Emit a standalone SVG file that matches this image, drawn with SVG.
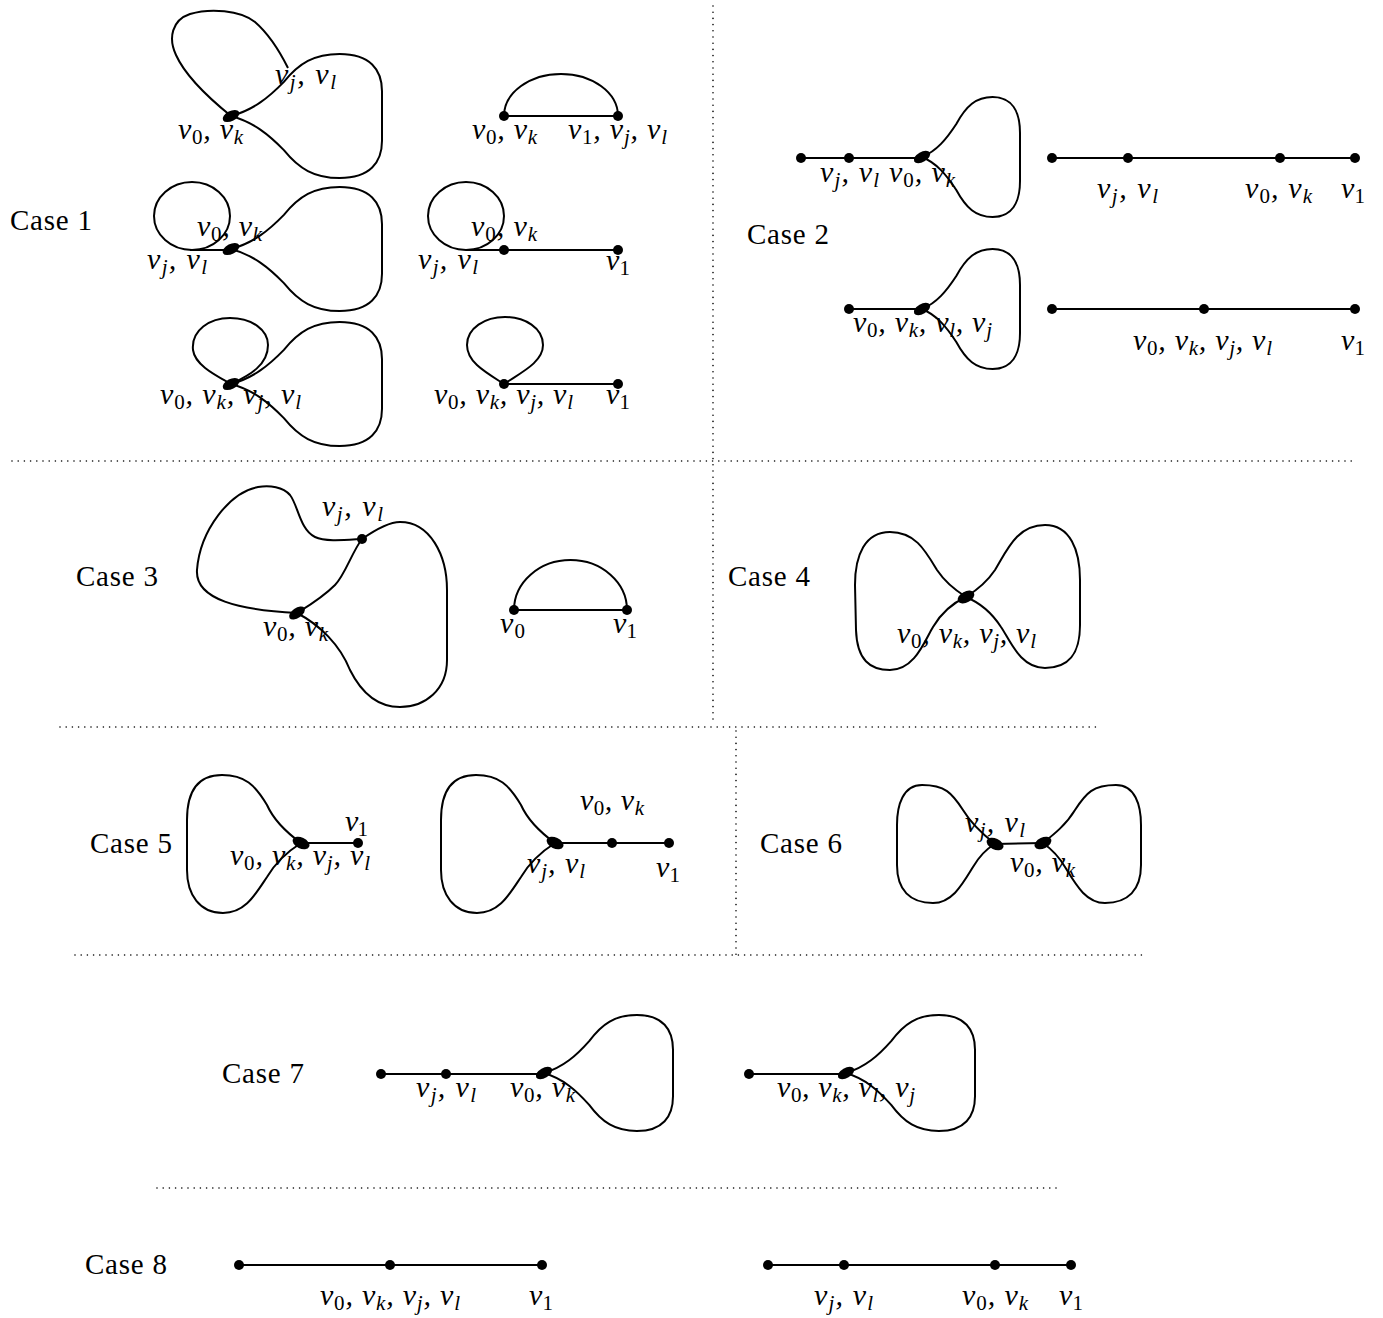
<svg xmlns="http://www.w3.org/2000/svg" width="1383" height="1318" viewBox="0 0 1383 1318">
<style>
.e{fill:none;stroke:#000;stroke-width:2}
.d{stroke:#000;stroke-width:1.6;stroke-dasharray:0 6.2;stroke-linecap:round;fill:none}
.v{fill:#000}
.m{font-family:"Liberation Serif","Times New Roman",serif;font-style:italic;font-size:30px;fill:#000}
.s{font-size:21px;font-style:normal}
.t{font-size:21px}
.c{font-family:"Liberation Serif","Times New Roman",serif;font-size:29px;fill:#000}
</style>
<rect width="1383" height="1318" fill="#fff"/>
<g id="dividers">
<line class="d" x1="713" y1="6" x2="713" y2="722"/>
<line class="d" x1="12" y1="461" x2="1356" y2="461"/>
<line class="d" x1="60" y1="727" x2="1100" y2="727"/>
<line class="d" x1="736" y1="731" x2="736" y2="955"/>
<line class="d" x1="75" y1="955" x2="1146" y2="955"/>
<line class="d" x1="157" y1="1188" x2="1058" y2="1188"/>
</g>
<g id="case-labels">
<text class="c" x="10" y="230" textLength="82" lengthAdjust="spacing">Case 1</text>
<text class="c" x="747" y="244" textLength="82" lengthAdjust="spacing">Case 2</text>
<text class="c" x="76" y="586" textLength="82" lengthAdjust="spacing">Case 3</text>
<text class="c" x="728" y="586" textLength="82" lengthAdjust="spacing">Case 4</text>
<text class="c" x="90" y="853" textLength="82" lengthAdjust="spacing">Case 5</text>
<text class="c" x="760" y="853" textLength="82" lengthAdjust="spacing">Case 6</text>
<text class="c" x="222" y="1083" textLength="82" lengthAdjust="spacing">Case 7</text>
<text class="c" x="85" y="1274" textLength="82" lengthAdjust="spacing">Case 8</text>
</g>
<g id="connectors">
<!-- Case 1 -->
<path class="e" d="M231,116 C205,95 185,75 176,55 C168,38 172,20 190,14 C210,8 240,10 255,22 C270,35 280,52 288,68"/>
<path class="e" d="M231,116 C253.7,109.8 268.8,97.4 283.9,81.9 C299,63.3 314.1,54 339.7,54 C369.9,54 382,69.5 382,91.2 L382,140.8 C382,162.5 369.9,178 339.7,178 C314.1,178 299,168.7 283.9,150.1 C268.8,134.6 253.7,122.2 231,116"/>
<path class="e" d="M504,116 A57,42 0 0 1 618,116 M504,116 H618"/>
<ellipse class="e" cx="192" cy="216" rx="38" ry="34"/>
<path class="e" d="M190,250 H231"/>
<path class="e" d="M231,249 C253.7,242.8 268.8,230.4 283.9,214.9 C299,196.3 314.1,187 339.7,187 C369.9,187 382,202.5 382,224.2 L382,273.8 C382,295.5 369.9,311 339.7,311 C314.1,311 299,301.7 283.9,283.1 C268.8,267.6 253.7,255.2 231,249"/>
<ellipse class="e" cx="466" cy="216" rx="38" ry="34"/>
<path class="e" d="M466,250 H618"/>
<path class="e" d="M231,384 C215,375 195,365 193,350 C191,330 210,318 230,318 C252,318 268,330 268,345 C268,365 250,375 231,384"/>
<path class="e" d="M231,384 C253.7,377.8 268.8,365.4 283.9,349.9 C299,331.3 314.1,322 339.7,322 C369.9,322 382,337.5 382,359.2 L382,408.8 C382,430.5 369.9,446 339.7,446 C314.1,446 299,436.7 283.9,418.1 C268.8,402.6 253.7,390.2 231,384"/>
<path class="e" d="M504,384 C485,372 467,362 467,345 C467,328 485,317 505,317 C525,317 543,328 543,345 C543,362 522,372 504,384 M504,384 H618"/>
<!-- Case 2 -->
<path class="e" d="M801,158 H922"/>
<path class="e" d="M922,157 C936.7,151 946.5,139 956.3,124 C966.1,106 975.9,97 992.6,97 C1012.2,97 1020,112 1020,133 L1020,181 C1020,202 1012.2,217 992.6,217 C975.9,217 966.1,208 956.3,190 C946.5,175 936.7,163 922,157"/>
<path class="e" d="M1052,158 H1355"/>
<path class="e" d="M849,309 H922"/>
<path class="e" d="M922,309 C936.7,303 946.5,291 956.3,276 C966.1,258 975.9,249 992.6,249 C1012.2,249 1020,264 1020,285 L1020,333 C1020,354 1012.2,369 992.6,369 C975.9,369 966.1,360 956.3,342 C946.5,327 936.7,315 922,309"/>
<path class="e" d="M1052,309 H1355"/>
<!-- Case 3 -->
<path class="e" d="M362,539 C345,540 325,542 315,537 C300,530 298,505 290,495 C283,487 270,485 258,487 C230,492 200,530 197,570 C195,600 240,610 297,613"/>
<path class="e" d="M362,539 C352,552 345,575 335,585 C322,598 310,605 297,613"/>
<path class="e" d="M362,539 C375,530 390,522 400,522 C430,522 447,555 447,590 L447,660 C447,690 425,707 400,707 C375,707 360,690 350,670 C340,645 320,625 297,613"/>
<path class="e" d="M514,610 A56.5,50 0 0 1 627,610 M514,610 H627"/>
<!-- Case 4 -->
<path class="e" d="M966,597 C955,590 945,582 937,570 C925,550 915,532 890,532 C865,532 855,555 855,585 L856,630 C857,660 870,670 890,670 C915,670 925,640 933,627 C943,610 955,602 966,597"/>
<path class="e" d="M966,597 C977,590 987,582 995,570 C1007,550 1017,525 1045,525 C1070,525 1080,550 1080,580 L1080,625 C1080,655 1068,668 1045,668 C1020,668 1010,640 1001,627 C990,610 978,602 966,597"/>
<!-- Case 5 -->
<path class="e" d="M301,843 H358"/>
<path class="e" d="M301,843 C290,835 275,823 267,805 C255,785 245,775 222,775 C195,775 187,795 187,820 L187,870 C187,895 200,913 223,913 C245,913 255,895 267,877 C277,860 290,850 301,843"/>
<path class="e" d="M555,843 H669"/>
<path class="e" d="M555,843 C544,835 529,823 521,805 C509,785 499,775 476,775 C449,775 441,795 441,820 L441,870 C441,895 454,913 477,913 C499,913 509,895 521,877 C531,860 544,850 555,843"/>
<!-- Case 6 -->
<path class="e" d="M995,844 L1043,843"/>
<path class="e" d="M995,844 C985,836 972,825 963,810 C952,793 945,785 922,785 C903,785 897,805 897,825 L897,865 C897,890 910,903 933,903 C952,903 962,885 973,867 C980,855 988,848 995,844"/>
<path class="e" d="M1043,843 C1053,835 1066,825 1075,810 C1086,793 1093,785 1116,785 C1135,785 1141,805 1141,825 L1141,865 C1141,890 1128,903 1105,903 C1086,903 1076,885 1065,867 C1058,855 1050,848 1043,843"/>
<!-- Case 7 -->
<path class="e" d="M381,1074 H544"/>
<path class="e" d="M544,1073 C563.4,1067.2 576.3,1055.6 589.2,1041.1 C602.1,1023.7 615,1015 636.9,1015 C662.7,1015 673,1029.5 673,1049.8 L673,1096.2 C673,1116.5 662.7,1131 636.9,1131 C615,1131 602.1,1122.3 589.2,1104.9 C576.3,1090.4 563.4,1078.8 544,1073"/>
<path class="e" d="M749,1074 H846"/>
<path class="e" d="M846,1073 C865.4,1067.2 878.3,1055.6 891.2,1041.1 C904.1,1023.7 917,1015 938.9,1015 C964.7,1015 975,1029.5 975,1049.8 L975,1096.2 C975,1116.5 964.7,1131 938.9,1131 C917,1131 904.1,1122.3 891.2,1104.9 C878.3,1090.4 865.4,1078.8 846,1073"/>
<!-- Case 8 -->
<path class="e" d="M239,1265 H542 M768,1265 H1071"/>
</g>
<!-- Case 1 nodes -->
<g id="c1a-n0"><ellipse class="v" cx="231" cy="116" rx="9" ry="5" transform="rotate(-28 231 116)"/>
<text class="m" x="178" y="139" textLength="65">v<tspan class="s" dy="5">0</tspan><tspan dy="-5">, v</tspan><tspan class="t" dy="5">k</tspan></text>
<text class="m" x="275" y="84" textLength="61">v<tspan class="t" dy="5">j</tspan><tspan dy="-5">, v</tspan><tspan class="t" dy="5">l</tspan></text></g>
<g id="c1b-n0"><circle class="v" cx="504" cy="116" r="5"/>
<text class="m" x="472" y="139" textLength="65">v<tspan class="s" dy="5">0</tspan><tspan dy="-5">, v</tspan><tspan class="t" dy="5">k</tspan></text></g>
<g id="c1b-n1"><circle class="v" cx="618" cy="116" r="5"/>
<text class="m" x="568" y="139" textLength="99">v<tspan class="s" dy="5">1</tspan><tspan dy="-5">, v</tspan><tspan class="t" dy="5">j</tspan><tspan dy="-5">, v</tspan><tspan class="t" dy="5">l</tspan></text></g>
<g id="c1c-n0"><ellipse class="v" cx="231" cy="249" rx="9" ry="5" transform="rotate(-28 231 249)"/>
<text class="m" x="197" y="236" textLength="65">v<tspan class="s" dy="5">0</tspan><tspan dy="-5">, v</tspan><tspan class="t" dy="5">k</tspan></text>
<text class="m" x="147" y="269" textLength="60">v<tspan class="t" dy="5">j</tspan><tspan dy="-5">, v</tspan><tspan class="t" dy="5">l</tspan></text></g>
<g id="c1d-n0"><circle class="v" cx="504" cy="250" r="5"/>
<text class="m" x="471" y="236" textLength="66">v<tspan class="s" dy="5">0</tspan><tspan dy="-5">, v</tspan><tspan class="t" dy="5">k</tspan></text>
<text class="m" x="418" y="269" textLength="60">v<tspan class="t" dy="5">j</tspan><tspan dy="-5">, v</tspan><tspan class="t" dy="5">l</tspan></text></g>
<g id="c1d-n1"><circle class="v" cx="618" cy="250" r="5"/>
<text class="m" x="606" y="270" textLength="24">v<tspan class="s" dy="5">1</tspan></text></g>
<g id="c1e-n0"><ellipse class="v" cx="231" cy="384" rx="9" ry="5" transform="rotate(-28 231 384)"/>
<text class="m" x="160" y="404" textLength="141">v<tspan class="s" dy="5">0</tspan><tspan dy="-5">, v</tspan><tspan class="t" dy="5">k</tspan><tspan dy="-5">, v</tspan><tspan class="t" dy="5">j</tspan><tspan dy="-5">, v</tspan><tspan class="t" dy="5">l</tspan></text></g>
<g id="c1f-n0"><circle class="v" cx="504" cy="384" r="5"/>
<text class="m" x="434" y="404" textLength="139">v<tspan class="s" dy="5">0</tspan><tspan dy="-5">, v</tspan><tspan class="t" dy="5">k</tspan><tspan dy="-5">, v</tspan><tspan class="t" dy="5">j</tspan><tspan dy="-5">, v</tspan><tspan class="t" dy="5">l</tspan></text></g>
<g id="c1f-n1"><circle class="v" cx="618" cy="384" r="5"/>
<text class="m" x="606" y="404" textLength="24">v<tspan class="s" dy="5">1</tspan></text></g>
<!-- Case 2 nodes -->
<g id="c2a-end"><circle class="v" cx="801" cy="158" r="5"/></g>
<g id="c2a-nj"><circle class="v" cx="849" cy="158" r="5"/>
<text class="m" x="820" y="182" textLength="59">v<tspan class="t" dy="5">j</tspan><tspan dy="-5">, v</tspan><tspan class="t" dy="5">l</tspan></text></g>
<g id="c2a-n0"><ellipse class="v" cx="922" cy="157" rx="9" ry="5" transform="rotate(-30 922 157)"/>
<text class="m" x="889" y="182" textLength="66">v<tspan class="s" dy="5">0</tspan><tspan dy="-5">, v</tspan><tspan class="t" dy="5">k</tspan></text></g>
<g id="c2b-end"><circle class="v" cx="1052" cy="158" r="5"/></g>
<g id="c2b-nj"><circle class="v" cx="1128" cy="158" r="5"/>
<text class="m" x="1097" y="198" textLength="61">v<tspan class="t" dy="5">j</tspan><tspan dy="-5">, v</tspan><tspan class="t" dy="5">l</tspan></text></g>
<g id="c2b-n0"><circle class="v" cx="1280" cy="158" r="5"/>
<text class="m" x="1245" y="198" textLength="67">v<tspan class="s" dy="5">0</tspan><tspan dy="-5">, v</tspan><tspan class="t" dy="5">k</tspan></text></g>
<g id="c2b-n1"><circle class="v" cx="1355" cy="158" r="5"/>
<text class="m" x="1341" y="198" textLength="24">v<tspan class="s" dy="5">1</tspan></text></g>
<g id="c2c-end"><circle class="v" cx="849" cy="309" r="5"/></g>
<g id="c2c-n0"><ellipse class="v" cx="922" cy="309" rx="9" ry="5" transform="rotate(-30 922 309)"/>
<text class="m" x="853" y="332" textLength="139">v<tspan class="s" dy="5">0</tspan><tspan dy="-5">, v</tspan><tspan class="t" dy="5">k</tspan><tspan dy="-5">, v</tspan><tspan class="t" dy="5">l</tspan><tspan dy="-5">, v</tspan><tspan class="t" dy="5">j</tspan></text></g>
<g id="c2d-end"><circle class="v" cx="1052" cy="309" r="5"/></g>
<g id="c2d-n0"><circle class="v" cx="1204" cy="309" r="5"/>
<text class="m" x="1133" y="350" textLength="139">v<tspan class="s" dy="5">0</tspan><tspan dy="-5">, v</tspan><tspan class="t" dy="5">k</tspan><tspan dy="-5">, v</tspan><tspan class="t" dy="5">j</tspan><tspan dy="-5">, v</tspan><tspan class="t" dy="5">l</tspan></text></g>
<g id="c2d-n1"><circle class="v" cx="1355" cy="309" r="5"/>
<text class="m" x="1341" y="350" textLength="24">v<tspan class="s" dy="5">1</tspan></text></g>
<!-- Case 3 nodes -->
<g id="c3a-nj"><circle class="v" cx="362" cy="539" r="5"/>
<text class="m" x="322" y="516" textLength="61">v<tspan class="t" dy="5">j</tspan><tspan dy="-5">, v</tspan><tspan class="t" dy="5">l</tspan></text></g>
<g id="c3a-n0"><ellipse class="v" cx="297" cy="613" rx="9" ry="5" transform="rotate(-35 297 613)"/>
<text class="m" x="263" y="636" textLength="65">v<tspan class="s" dy="5">0</tspan><tspan dy="-5">, v</tspan><tspan class="t" dy="5">k</tspan></text></g>
<g id="c3b-n0"><circle class="v" cx="514" cy="610" r="5"/>
<text class="m" x="500" y="633" textLength="25">v<tspan class="s" dy="5">0</tspan></text></g>
<g id="c3b-n1"><circle class="v" cx="627" cy="610" r="5"/>
<text class="m" x="613" y="633" textLength="24">v<tspan class="s" dy="5">1</tspan></text></g>
<!-- Case 4 node -->
<g id="c4-n0"><ellipse class="v" cx="966" cy="597" rx="9" ry="5.5" transform="rotate(-28 966 597)"/>
<text class="m" x="897" y="643" textLength="139">v<tspan class="s" dy="5">0</tspan><tspan dy="-5">, v</tspan><tspan class="t" dy="5">k</tspan><tspan dy="-5">, v</tspan><tspan class="t" dy="5">j</tspan><tspan dy="-5">, v</tspan><tspan class="t" dy="5">l</tspan></text></g>
<!-- Case 5 nodes -->
<g id="c5a-n0"><ellipse class="v" cx="301" cy="843" rx="9" ry="5.5" transform="rotate(25 301 843)"/>
<text class="m" x="230" y="865" textLength="140">v<tspan class="s" dy="5">0</tspan><tspan dy="-5">, v</tspan><tspan class="t" dy="5">k</tspan><tspan dy="-5">, v</tspan><tspan class="t" dy="5">j</tspan><tspan dy="-5">, v</tspan><tspan class="t" dy="5">l</tspan></text></g>
<g id="c5a-n1"><circle class="v" cx="358" cy="843" r="5"/>
<text class="m" x="345" y="831" textLength="23">v<tspan class="s" dy="5">1</tspan></text></g>
<g id="c5b-nj"><ellipse class="v" cx="555" cy="843" rx="9" ry="5.5" transform="rotate(25 555 843)"/>
<text class="m" x="527" y="873" textLength="58">v<tspan class="t" dy="5">j</tspan><tspan dy="-5">, v</tspan><tspan class="t" dy="5">l</tspan></text></g>
<g id="c5b-n0"><circle class="v" cx="612" cy="843" r="5"/>
<text class="m" x="580" y="810" textLength="64">v<tspan class="s" dy="5">0</tspan><tspan dy="-5">, v</tspan><tspan class="t" dy="5">k</tspan></text></g>
<g id="c5b-n1"><circle class="v" cx="669" cy="843" r="5"/>
<text class="m" x="656" y="877" textLength="24">v<tspan class="s" dy="5">1</tspan></text></g>
<!-- Case 6 nodes -->
<g id="c6-nj"><ellipse class="v" cx="995" cy="844" rx="9" ry="5.5" transform="rotate(25 995 844)"/>
<text class="m" x="965" y="832" textLength="60">v<tspan class="t" dy="5">j</tspan><tspan dy="-5">, v</tspan><tspan class="t" dy="5">l</tspan></text></g>
<g id="c6-n0"><ellipse class="v" cx="1043" cy="843" rx="9" ry="5.5" transform="rotate(-25 1043 843)"/>
<text class="m" x="1010" y="872" textLength="65">v<tspan class="s" dy="5">0</tspan><tspan dy="-5">, v</tspan><tspan class="t" dy="5">k</tspan></text></g>
<!-- Case 7 nodes -->
<g id="c7a-end"><circle class="v" cx="381" cy="1074" r="5"/></g>
<g id="c7a-nj"><circle class="v" cx="446" cy="1074" r="5"/>
<text class="m" x="416" y="1097" textLength="60">v<tspan class="t" dy="5">j</tspan><tspan dy="-5">, v</tspan><tspan class="t" dy="5">l</tspan></text></g>
<g id="c7a-n0"><ellipse class="v" cx="544" cy="1073" rx="9" ry="5" transform="rotate(-30 544 1073)"/>
<text class="m" x="510" y="1097" textLength="65">v<tspan class="s" dy="5">0</tspan><tspan dy="-5">, v</tspan><tspan class="t" dy="5">k</tspan></text></g>
<g id="c7b-end"><circle class="v" cx="749" cy="1074" r="5"/></g>
<g id="c7b-n0"><ellipse class="v" cx="846" cy="1073" rx="9" ry="5" transform="rotate(-30 846 1073)"/>
<text class="m" x="777" y="1097" textLength="138">v<tspan class="s" dy="5">0</tspan><tspan dy="-5">, v</tspan><tspan class="t" dy="5">k</tspan><tspan dy="-5">, v</tspan><tspan class="t" dy="5">l</tspan><tspan dy="-5">, v</tspan><tspan class="t" dy="5">j</tspan></text></g>
<!-- Case 8 nodes -->
<g id="c8a-end"><circle class="v" cx="239" cy="1265" r="5"/></g>
<g id="c8a-n0"><circle class="v" cx="390" cy="1265" r="5"/>
<text class="m" x="320" y="1305" textLength="140">v<tspan class="s" dy="5">0</tspan><tspan dy="-5">, v</tspan><tspan class="t" dy="5">k</tspan><tspan dy="-5">, v</tspan><tspan class="t" dy="5">j</tspan><tspan dy="-5">, v</tspan><tspan class="t" dy="5">l</tspan></text></g>
<g id="c8a-n1"><circle class="v" cx="542" cy="1265" r="5"/>
<text class="m" x="529" y="1305" textLength="24">v<tspan class="s" dy="5">1</tspan></text></g>
<g id="c8b-end"><circle class="v" cx="768" cy="1265" r="5"/></g>
<g id="c8b-nj"><circle class="v" cx="844" cy="1265" r="5"/>
<text class="m" x="814" y="1305" textLength="59">v<tspan class="t" dy="5">j</tspan><tspan dy="-5">, v</tspan><tspan class="t" dy="5">l</tspan></text></g>
<g id="c8b-n0"><circle class="v" cx="995" cy="1265" r="5"/>
<text class="m" x="962" y="1305" textLength="66">v<tspan class="s" dy="5">0</tspan><tspan dy="-5">, v</tspan><tspan class="t" dy="5">k</tspan></text></g>
<g id="c8b-n1"><circle class="v" cx="1071" cy="1265" r="5"/>
<text class="m" x="1059" y="1305" textLength="24">v<tspan class="s" dy="5">1</tspan></text></g>
</svg>
